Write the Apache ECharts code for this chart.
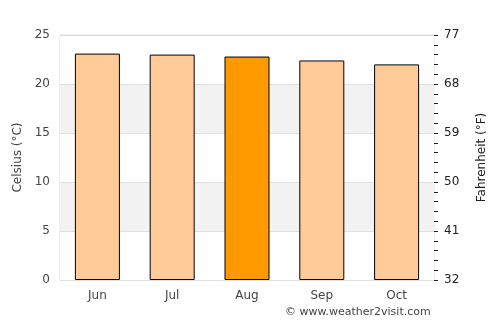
<!DOCTYPE html>
<html lang="en">
<head>
    <meta charset="UTF-8">
    <title>Weather</title>
    <style>
        body { margin: 0; background: #fff; }
    </style>
</head>
<body>
<div id="chart" style="width: 500px;height:325px;"></div>
<script src="https://cdn.jsdelivr.net/npm/echarts@6/dist/echarts.min.js"></script>
<script>
    var months = ['Jun', 'Jul', 'Aug', 'Sep', 'Oct'];
    var celsius = [23.1, 23.0, 22.8, 22.4, 22.0];
    var highlight = 'Aug';   // current month, darker bar

    var myChart = echarts.init(document.getElementById('chart'));

    var barData = [];
    for (var i = 0; i < months.length; i++) {
        barData.push({
            value: celsius[i],
            itemStyle: { color: months[i] === highlight ? '#ff9900' : '#ffcc99' }
        });
    }

    var labelFont = { color: '#444', fontSize: 12, fontFamily: 'DejaVu Sans' };

    myChart.setOption({
        animation: false,
        grid: { left: 60, right: 66, top: 35, bottom: 45, show: true, borderColor: '#ddd', borderWidth: 1 },
        graphic: [{
            type: 'text', left: 285, top: 307,
            style: { text: '© www.weather2visit.com', fill: '#444', font: '11px DejaVu Sans' }
        }],
        xAxis: {
            type: 'category',
            data: months,
            axisLine: { show: false },
            axisTick: { show: false },
            axisLabel: Object.assign({ margin: 10 }, labelFont)
        },
        yAxis: [{
            type: 'value',
            min: 0, max: 25, interval: 5,
            name: 'Celsius (°C)',
            nameLocation: 'middle',
            nameGap: 35,
            nameTextStyle: { color: '#444', fontSize: 12, fontFamily: 'DejaVu Sans' },
            axisLine: { show: false },
            axisTick: { show: false },
            axisLabel: Object.assign({ margin: 10 }, labelFont),
            splitLine: { lineStyle: { color: '#e0e0e0' } },
            splitArea: { show: true, areaStyle: { color: ['#ffffff', '#f2f2f2'] } }
        }, {
            type: 'value',
            min: 32, max: 77, interval: 9,
            position: 'right',
            name: 'Fahrenheit (°F)',
            nameLocation: 'middle',
            nameGap: 42,
            nameTextStyle: { color: '#222', fontSize: 12, fontFamily: 'DejaVu Sans' },
            axisLine: { show: false },
            axisTick: { show: true, length: 4, lineStyle: { color: '#222' } },
            minorTick: { show: true, splitNumber: 5, length: 4, lineStyle: { color: '#222' } },
            axisLabel: Object.assign({ margin: 10 }, labelFont, { color: '#222' }),
            splitLine: { show: false }
        }],
        series: [{
            type: 'bar',
            data: barData,
            barWidth: 45,
            itemStyle: { borderColor: '#000', borderWidth: 1 }
        }]
    });
</script>
</body>
</html>
